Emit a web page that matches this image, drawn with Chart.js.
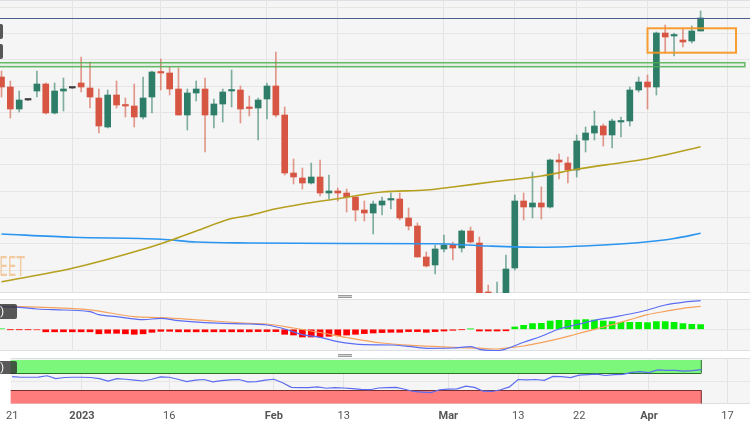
<!DOCTYPE html>
<html>
<head>
<meta charset="utf-8">
<title>Daily chart</title>
<script src="https://cdn.jsdelivr.net/npm/chart.js@4.4.1/dist/chart.umd.min.js"></script>
<style>
  html, body { margin: 0; padding: 0; background: #fff; }
  body { position: relative; width: 750px; height: 430px; overflow: hidden; font-family: Roboto, "Liberation Sans", sans-serif; }
  .pane { position: absolute; left: 0; width: 750px; }
  .tag { position: absolute; height: 15px; line-height: 15px; padding: 0 13px 0 6px; background: rgba(48,48,48,0.8); color: #fff; font-size: 11px; white-space: nowrap; border-radius: 2px; }
  .grip { position: absolute; left: 338px; width: 14px; height: 1px; border-top: 1px solid #9c9c9c; border-bottom: 1px solid #9c9c9c; background: #d2d2d2; }
  .wm { position: absolute; right: 725px; top: 252px; font-family: "DejaVu Sans Condensed", "DejaVu Sans", sans-serif; font-size: 26px; color: rgba(240,150,60,0.45); transform: scaleX(0.58); transform-origin: right center; white-space: nowrap; }
</style>
</head>
<body>
<div class="pane" style="top:0;height:293px"><canvas id="cMain"></canvas></div>
<div class="pane" style="top:299px;height:52px"><canvas id="cMacd"></canvas></div>
<div class="pane" style="top:358px;height:72px"><canvas id="cRsi"></canvas></div>

<div class="grip" style="top:295px"></div>
<div class="grip" style="top:354px"></div>
<div class="tag" style="right:747px;top:24px;width:40px"></div>
<div class="tag" style="right:747px;top:44px;width:40px"></div>
<div class="tag" style="right:733px;top:304px">MACD (12,26,9)</div>
<div class="tag" style="right:733px;top:361px;height:13px;line-height:13px">RSI (14)</div>
<div class="wm">FXSTREET</div>

<script>
// x axis: one step per trading day, Dec 21 = 0
var xMin = -0.17, xMax = 84.58;
var xTicks  = [0, 8, 18, 30, 38, 50, 58, 65, 73, 82];
var xLabels = ['21', '2023', '16', 'Feb', '13', 'Mar', '13', '22', 'Apr', '17'];

// daily candles (price in chart points)
var open = [216,206,184,193,202,209,180,202,205,210,
            205,195,166,198,188,187,176,196,221,220,
            204,178,200,204,178,189,202,203,185.5,185,
            194,207,178,120,115,110,116,100,102,100,
            96,83,80,88,93,94,75,67,36,28,
            44,48,45,62,50,1,-5,-3,25,92,
            86,90,86,133,130,123,153,160,167,158,
            171,172,203,211,206,260,257,253,252,262];
var high = [222,212,202,193.5,222,210,210,215,205.5,236,
            231,204,203,212,195,209,216,222,234,226,
            225,204,212,215,194,204,223,207,197,195,
            210,241,186,134,125,130,133,118,105,104,
            96,92,92,96,100,100,85,70,41,48,
            58,51,63,66,56,8,11,38,98,100,
            121,106,134,139,136,158,166,182,169,174,
            176,206,216,218,261,268,260,264,267,282];
var low  = [196,175,181,192.5,196,179,179,182,204.5,201,
            185,160,165,185,176,166,174,180,203,198,
            178,163,192,141,165,171,186,170,177,153,
            174,176,118,109,104,109,97,94,92,81,
            72,72,59,78,84,73,63,36,26,19,
            41,33,41,50,-3,-4,-7,-5,23,73,
            75,74,85,114,110,116,141,153,147,145,
            156,167,201,184,198,240,237,246,250,262];
var close = [206,184,193,193,209,180,202,204,205,206,
             196,167,198,188,187,176,195,221,220,204,
             178,200,204,178,189,201,203,184,184.5,193,
             207,178,120,116,110,116,100,102,100,96,
             83,80,89,92,93.5,75,67,36,27,44,
             48,45,62,51,-1,-1,-1,24,92,86,
             90,86,133,131,123,152,160,167,158,172,
             172,203,211,206,260,256,258,251,262,275];

// moving averages
var smaSlowIdx = [0,8,16,19,22,26,28,31,34,38,43,48,51,56,61,65,70,73,75,79];
var smaSlow    = [11.3,24.7,43.7,52.3,62,74.5,77.5,84.3,89,94.3,101,103,106,111.7,117,123.7,130.3,134.3,138,146.3];
var smaLongIdx = [0,8,18,22,28,39,49,55,61,68,73,76,79];
var smaLong    = [59,55.7,53.7,51,50,49.5,49.3,47,45.8,48,51.2,54.5,59.7];

var priceGrid  = [23, 49.3, 75.5, 101.8, 128.1, 154.4, 180.6, 206.9, 233.2, 259.4, 285.7];
var resistance = 275;
var greenZone  = [-1, 84, 226.3, 230.3];   // from, to, low, high
var orangeBox  = [73, 83, 240.3, 264.7];

// MACD (12,26,9)
var histogram = [0.5,-0.3,-0.3,-0.3,-0.5,-2.5,-2.5,-2.5,-2.5,-2.5,
                 -2.5,-4.5,-4,-4,-4.5,-5,-4.5,-3,-2,-2,
                 -2.5,-2.5,-2.5,-2.5,-2.5,-2.5,-2.5,-2.5,-2.5,-2.3,
                 -2.3,-2.3,-5,-5.7,-7.7,-7.7,-7.7,-7,-6.3,-5.7,
                 -5,-4.3,-3.7,-3.3,-3,-3,-2.3,-2.3,-3,-2.3,
                 -1.7,-1,-0.3,0.3,-1.7,-1.7,-1.7,-1.5,2.3,4,
                 5.7,6,8.3,9,9,9.3,9.7,9.3,8.3,7.7,
                 7,7,7,6.7,7.7,7.7,7,5.7,5,4.7];
var macdIdx  = [0,2,4,7,10,11,13,16,18,20,23,25,28,30,32,34,36,38,41,44,46,48,51,53,54,56,57,59,61,63,65,67,69,71,73,75,77,79];
var macdLine = [22.6,22,20.3,19.3,17.6,14.6,12.6,9.6,11,8.6,6.6,6,5.3,4.3,0.3,-5.4,-8,-12.4,-15.4,-15.7,-17,-19,-18.7,-17.4,-20,-21.4,-19.7,-13,-7,0.3,4.6,9,12,15.3,19.3,24.3,27,28.6];
var signalIdx  = [0,4,10,15,18,22,28,30,33,36,39,43,47,51,54,56,57,59,61,63,65,67,69,71,73,75,77,79];
var signalLine = [23.3,22.1,19.4,12.6,11.6,9.5,6,5.3,1.3,-3.2,-8.2,-13.7,-16.4,-18.1,-18.9,-19.7,-18.7,-16.7,-13.4,-9.4,-4.7,0,4.6,9.6,14.6,18,21,23];

// RSI (14)
var rsi = [61.7,60.3,60.3,60.7,63.7,57.1,59.7,60.3,60.3,59.7,
           57.1,51.7,57.1,55.7,53.7,51.7,55.7,61.1,60.3,55.7,
           50.3,53.7,55.1,49.7,52.7,54.3,55.1,49.7,50.3,53.7,
           55.7,47.7,37.1,36.3,36.7,38.3,35.1,36.3,35.7,34.3,
           32.7,31.7,35.7,36.7,37.1,32.7,27.7,26.3,25.1,31.7,
           33.1,33.7,39.7,37.1,28.3,27.7,31.7,38.3,55.1,54.3,
           55.1,53.1,62.3,61.7,59.7,65.1,66.3,67.7,64.3,66.3,
           67.1,71.7,73.1,71.1,77.1,76.3,76.3,74.3,75.7,77.7];
var rsiBands = [
  { from: 70, to: 100, edge: 70, fill: '#7cf77c', line: '#2c6e2c' },
  { from: 0, to: 30, edge: 30, fill: '#ff7c7c', line: '#7a2e2e' }
];

function pts(idx, vals) {
  return idx.map(function (v, k) { return { x: v, y: vals[k] }; });
}

function candleColor(i, a) {
  if (close[i] > open[i]) return 'rgba(46,125,104,' + a + ')';
  if (close[i] < open[i]) return 'rgba(214,86,67,' + a + ')';
  return 'rgba(60,60,60,' + a + ')';
}

var panelBg = {
  id: 'panelBg',
  beforeDraw: function (chart) {
    var a = chart.chartArea, ctx = chart.ctx;
    ctx.save();
    ctx.fillStyle = '#f5f5f5';
    ctx.fillRect(a.left, a.top, a.right - a.left, a.bottom - a.top);
    ctx.strokeStyle = '#dcdfe4';
    ctx.lineWidth = 1;
    ctx.beginPath();
    ctx.moveTo(a.left, a.top + 0.5); ctx.lineTo(a.right, a.top + 0.5);
    ctx.moveTo(a.left, a.bottom - 0.5); ctx.lineTo(a.right, a.bottom - 0.5);
    ctx.stroke();
    ctx.restore();
  }
};

var drawings = {
  id: 'drawings',
  afterDatasetsDraw: function (chart) {
    var x = chart.scales.x, y = chart.scales.y, ctx = chart.ctx, a = chart.chartArea;
    ctx.save();
    var ly = Math.round(y.getPixelForValue(resistance)) + 0.5;
    ctx.strokeStyle = '#4f5f8c';
    ctx.lineWidth = 1;
    ctx.beginPath(); ctx.moveTo(a.left, ly); ctx.lineTo(a.right, ly); ctx.stroke();

    var gx0 = x.getPixelForValue(greenZone[0]), gx1 = x.getPixelForValue(greenZone[1]);
    var gy0 = y.getPixelForValue(greenZone[3]), gy1 = y.getPixelForValue(greenZone[2]);
    ctx.fillStyle = 'rgba(76,175,80,0.08)';
    ctx.fillRect(gx0, gy0, gx1 - gx0, gy1 - gy0);
    ctx.strokeStyle = 'rgba(76,175,80,0.85)';
    ctx.lineWidth = 1.5;
    ctx.strokeRect(gx0, gy0, gx1 - gx0, gy1 - gy0);

    var ox0 = x.getPixelForValue(orangeBox[0]), ox1 = x.getPixelForValue(orangeBox[1]);
    var oy0 = y.getPixelForValue(orangeBox[3]), oy1 = y.getPixelForValue(orangeBox[2]);
    ctx.strokeStyle = 'rgba(247,147,30,0.9)';
    ctx.lineWidth = 2;
    ctx.strokeRect(ox0, oy0, ox1 - ox0, oy1 - oy0);
    ctx.restore();
  }
};

var bands = {
  id: 'bands',
  beforeDatasetsDraw: function (chart) {
    var x = chart.scales.x, y = chart.scales.y, ctx = chart.ctx;
    var x0 = chart.chartArea.left, x1 = x.getPixelForValue(rsi.length - 1);
    ctx.save();
    rsiBands.forEach(function (b) {
      var top = y.getPixelForValue(b.to), bot = y.getPixelForValue(b.from);
      var ey = Math.round(y.getPixelForValue(b.edge)) + 0.5;
      ctx.fillStyle = b.fill;
      ctx.fillRect(x0, top, x1 - x0, bot - top);
      ctx.strokeStyle = b.line;
      ctx.lineWidth = 1;
      ctx.beginPath();
      ctx.moveTo(x0, ey); ctx.lineTo(x1, ey);
      ctx.moveTo(x1, top); ctx.lineTo(x1, bot);
      ctx.stroke();
    });
    ctx.restore();
  }
};

function xAxis(showLabels) {
  return {
    type: 'linear', min: xMin, max: xMax, offset: false,
    afterBuildTicks: function (s) { s.ticks = xTicks.map(function (v) { return { value: v }; }); },
    grid: { offset: false, drawTicks: false,
            color: function (c) { return c.index === 0 ? 'rgba(0,0,0,0)' : '#e4e4e4'; } },
    border: { display: false },
    ticks: {
      display: showLabels, autoSkip: false, maxRotation: 0, padding: 6, color: '#555',
      callback: function (v, i) { return xLabels[i]; },
      font: function (c) {
        var t = xLabels[c.index] || '';
        return { family: 'Roboto', size: 11, weight: t.length > 2 ? 'bold' : 'normal' };
      }
    }
  };
}

function yAxis(min, max, grid) {
  return {
    min: min, max: max,
    afterBuildTicks: function (s) { s.ticks = grid.map(function (v) { return { value: v }; }); },
    grid: { color: '#e6e6e6', drawTicks: false },
    border: { display: false },
    ticks: { display: false }
  };
}

function baseOptions(scales, padBottom) {
  return {
    responsive: true, maintainAspectRatio: false, animation: false, events: [],
    layout: { autoPadding: false, padding: { left: 0, right: 0, top: 0, bottom: padBottom || 0 } },
    plugins: { legend: { display: false }, tooltip: { enabled: false } },
    scales: scales
  };
}

var idx = open.map(function (v, i) { return i; });

new Chart(document.getElementById('cMain'), {
  type: 'bar',
  data: {
    datasets: [
      { type: 'line', data: pts(smaSlowIdx, smaSlow), borderColor: '#b5a020', borderWidth: 1.6,
        pointRadius: 0, cubicInterpolationMode: 'monotone', order: 0 },
      { type: 'line', data: pts(smaLongIdx, smaLong), borderColor: '#2b95f0', borderWidth: 1.6,
        pointRadius: 0, cubicInterpolationMode: 'monotone', order: 0 },
      { data: idx.map(function (i) { return { x: i, y: [open[i], close[i]] }; }),
        backgroundColor: function (c) { return candleColor(c.dataIndex, 1); },
        barThickness: 6, minBarLength: 1.5, grouped: false, order: 1 },
      { data: idx.map(function (i) { return { x: i, y: [low[i], high[i]] }; }),
        backgroundColor: function (c) { return candleColor(c.dataIndex, 0.6); },
        barThickness: 1, grouped: false, order: 2 }
    ]
  },
  options: baseOptions({ x: xAxis(false), y: yAxis(0, 293, priceGrid) }),
  plugins: [panelBg, drawings]
});

new Chart(document.getElementById('cMacd'), {
  type: 'bar',
  data: {
    datasets: [
      { type: 'line', data: pts(macdIdx, macdLine), borderColor: '#5b6df3', borderWidth: 1.2,
        pointRadius: 0, cubicInterpolationMode: 'monotone', order: 0 },
      { type: 'line', data: pts(signalIdx, signalLine), borderColor: '#f5a25d', borderWidth: 1.2,
        pointRadius: 0, cubicInterpolationMode: 'monotone', order: 0 },
      { data: histogram.map(function (v, i) { return { x: i, y: v }; }),
        backgroundColor: function (c) { return histogram[c.dataIndex] >= 0 ? '#00f000' : '#ff0000'; },
        barThickness: 6, grouped: false, order: 1 }
    ]
  },
  options: baseOptions({ x: xAxis(false), y: yAxis(-21.7, 30.3, [0]) }),
  plugins: [panelBg]
});

new Chart(document.getElementById('cRsi'), {
  type: 'line',
  data: {
    datasets: [
      { data: rsi.map(function (v, i) { return { x: i, y: v }; }), borderColor: '#5b6cf0',
        borderWidth: 1.2, pointRadius: 0, tension: 0 }
    ]
  },
  options: baseOptions({ x: xAxis(true), y: yAxis(-1.07, 104.5, [50]) }, 0.8),
  plugins: [panelBg, bands]
});
</script>
</body>
</html>
